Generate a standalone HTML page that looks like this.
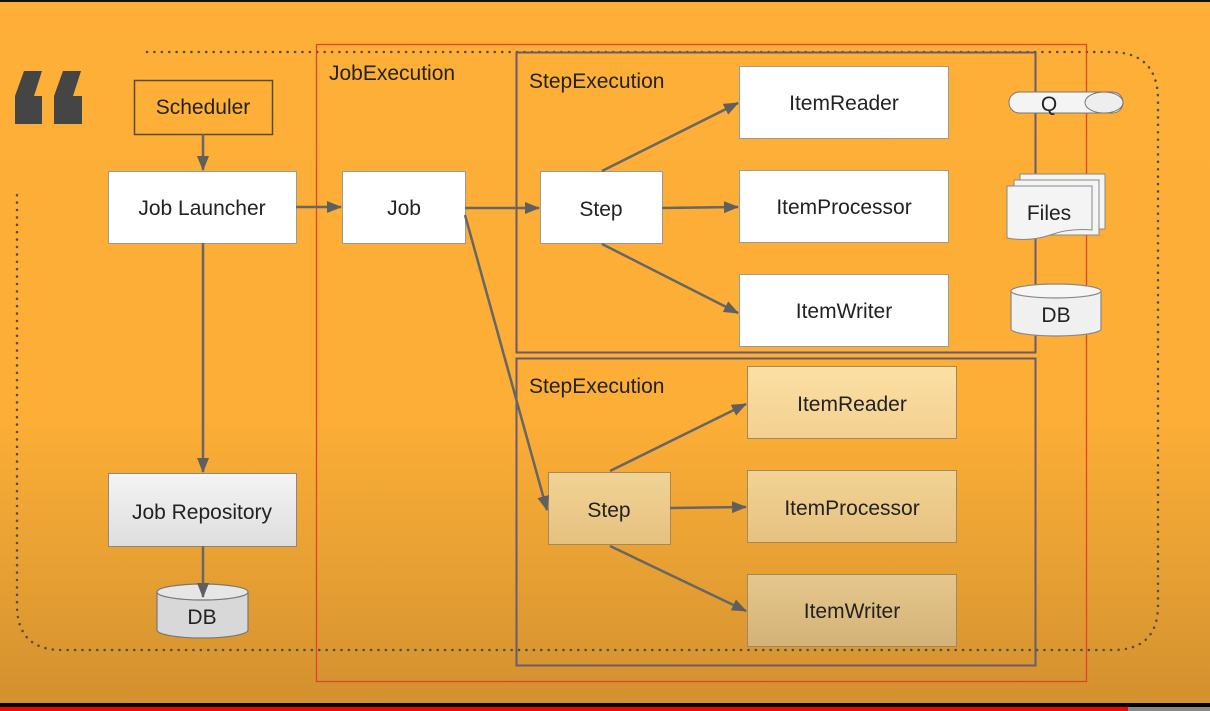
<!DOCTYPE html>
<html><head><meta charset="utf-8"><style>
html,body{margin:0;padding:0;width:1210px;height:711px;overflow:hidden}
body{background:linear-gradient(to bottom,#FDAF37 0px,#FCAE36 420px,#E8A133 560px,#D3912F 700px);}
svg{position:absolute;left:0;top:0}
text{font-family:"Liberation Sans",sans-serif;fill:#222}
</style></head><body>
<svg width="1210" height="711" viewBox="0 0 1210 711">
<defs>
<marker id="b" markerWidth="16" markerHeight="14" refX="14" refY="7" orient="auto" markerUnits="userSpaceOnUse">
<path d="M0,1 L15,7 L0,13 z" fill="#5f5f5f"/></marker>
<linearGradient id="g" x1="0" y1="0" x2="0" y2="1"><stop offset="0" stop-color="#f4f4f4"/><stop offset="1" stop-color="#dedede"/></linearGradient>
<linearGradient id="t1" x1="0" y1="0" x2="0" y2="1"><stop offset="0" stop-color="#FBE0A4"/><stop offset="1" stop-color="#F3D090"/></linearGradient>
<linearGradient id="t2" x1="0" y1="0" x2="0" y2="1"><stop offset="0" stop-color="#F1D395"/><stop offset="1" stop-color="#E6C17F"/></linearGradient>
<linearGradient id="t3" x1="0" y1="0" x2="0" y2="1"><stop offset="0" stop-color="#E5C88C"/><stop offset="1" stop-color="#D4B277"/></linearGradient>
</defs>
<rect x="0" y="0" width="1210" height="2" fill="#111"/>
<rect x="0" y="703" width="1210" height="8" fill="#000"/>
<rect x="0" y="707" width="1128" height="4" fill="#f00"/>
<rect x="1128" y="707" width="82" height="4" fill="#888"/>
<path d="M147,52 L1110,52 Q1158,52 1158,100 L1158,605 Q1158,650 1113,650 L62,650 Q17,650 17,605 L17,190" fill="none" stroke="#5a4a3a" stroke-width="2.5" stroke-dasharray="0.1 7.3" stroke-linecap="round"/>
<!-- quote mark decorative -->
<path d="M24,71 L42,71 L34,96 L42,96 L42,124 L15,124 L15,96 Z" fill="#454545"/>
<path d="M63,71 L81,71 L73,96 L82,96 L82,124 L54,124 L54,96 Z" fill="#454545"/>
<rect x="316.5" y="44.5" width="770" height="637" fill="none" stroke="#E0442A" stroke-width="1.3"/>
<text x="329" y="80" style="font-size:21px">JobExecution</text>
<rect x="516.5" y="52.5" width="519" height="300" fill="none" stroke="#6a5a70" stroke-width="2"/>
<text x="529" y="88" style="font-size:21px">StepExecution</text>
<rect x="516.5" y="358.5" width="519" height="307" fill="none" stroke="#6a5a70" stroke-width="2"/>
<text x="529" y="393" style="font-size:21px">StepExecution</text>
<rect x="134.5" y="80.5" width="138" height="54" fill="none" stroke="#5a4a30" stroke-width="1.5"/>
<text x="203" y="114" text-anchor="middle" style="font-size:21px">Scheduler</text>
<rect x="108.5" y="171.5" width="188" height="72" fill="#fff" stroke="#999" stroke-width="1"/>
<text x="202" y="215" text-anchor="middle" style="font-size:21px">Job Launcher</text>
<rect x="108.5" y="473.5" width="188" height="73" fill="url(#g)" stroke="#888" stroke-width="1"/>
<text x="202" y="519" text-anchor="middle" style="font-size:21px">Job Repository</text>
<path d="M157,592 L157,630 A45.5,8 0 0 0 248,630 L248,592" fill="#d8d8d8" stroke="#777" stroke-width="1.2"/>
<ellipse cx="202.5" cy="592" rx="45.5" ry="8" fill="#e6e6e6" stroke="#777" stroke-width="1.2"/>
<text x="202" y="624" text-anchor="middle" style="font-size:21px">DB</text>
<rect x="342.5" y="171.5" width="123" height="72" fill="#fff" stroke="#999"/>
<text x="404" y="215" text-anchor="middle" style="font-size:21px">Job</text>
<rect x="540.5" y="171.5" width="122" height="72" fill="#fff" stroke="#999"/>
<text x="601" y="216" text-anchor="middle" style="font-size:21px">Step</text>
<rect x="739.5" y="66.5" width="209" height="72" fill="#fff" stroke="#999"/>
<text x="844" y="110" text-anchor="middle" style="font-size:21px">ItemReader</text>
<rect x="739.5" y="170.5" width="209" height="72" fill="#fff" stroke="#999"/>
<text x="844" y="214" text-anchor="middle" style="font-size:21px">ItemProcessor</text>
<rect x="739.5" y="274.5" width="209" height="72" fill="#fff" stroke="#999"/>
<text x="844" y="318" text-anchor="middle" style="font-size:21px">ItemWriter</text>
<rect x="548.5" y="472.5" width="122" height="72" fill="url(#t2)" stroke="#a08860"/>
<text x="609" y="517" text-anchor="middle" style="font-size:21px">Step</text>
<rect x="747.5" y="366.5" width="209" height="72" fill="url(#t1)" stroke="#a08860"/>
<text x="852" y="411" text-anchor="middle" style="font-size:21px">ItemReader</text>
<rect x="747.5" y="470.5" width="209" height="72" fill="url(#t2)" stroke="#a08860"/>
<text x="852" y="515" text-anchor="middle" style="font-size:21px">ItemProcessor</text>
<rect x="747.5" y="574.5" width="209" height="72" fill="url(#t3)" stroke="#a08860"/>
<text x="852" y="618" text-anchor="middle" style="font-size:21px">ItemWriter</text>
<rect x="1009" y="92" width="114" height="21" rx="10.5" fill="#f4f4f4" stroke="#777"/>
<ellipse cx="1104" cy="102.5" rx="19" ry="10.5" fill="#eee" stroke="#777"/>
<text x="1049" y="111" text-anchor="middle" style="font-size:21px">Q</text>
<rect x="1020" y="174" width="85" height="55" fill="#f4f4f4" stroke="#888"/>
<rect x="1014" y="180" width="85" height="55" fill="#f4f4f4" stroke="#888"/>
<path d="M1007,186 L1092,186 L1092,230 Q1070,228 1050,235 Q1030,242 1007,238 Z" fill="#f4f4f4" stroke="#888"/>
<text x="1049" y="220" text-anchor="middle" style="font-size:21px">Files</text>
<path d="M1011,291 L1011,329 A45,7 0 0 0 1101,329 L1101,291" fill="#f0f0f0" stroke="#888" stroke-width="1.2"/>
<ellipse cx="1056" cy="291" rx="45" ry="7" fill="#f6f6f6" stroke="#888" stroke-width="1.2"/>
<text x="1056" y="322" text-anchor="middle" style="font-size:21px">DB</text>
<g stroke="#666" stroke-width="2.5" fill="none">
<line x1="203" y1="134" x2="203" y2="170" marker-end="url(#b)"/>
<line x1="296" y1="207" x2="341" y2="207" marker-end="url(#b)"/>
<line x1="203" y1="243" x2="203" y2="472" marker-end="url(#b)"/>
<line x1="203" y1="546" x2="203" y2="597" marker-end="url(#b)"/>
<line x1="465" y1="208" x2="539" y2="208" marker-end="url(#b)"/>
<line x1="465" y1="215" x2="547" y2="510" marker-end="url(#b)"/>
<line x1="602" y1="171" x2="738" y2="103" marker-end="url(#b)"/>
<line x1="662" y1="208" x2="738" y2="207" marker-end="url(#b)"/>
<line x1="602" y1="244" x2="738" y2="313" marker-end="url(#b)"/>
<line x1="610" y1="471" x2="746" y2="404" marker-end="url(#b)"/>
<line x1="670" y1="508" x2="746" y2="507" marker-end="url(#b)"/>
<line x1="610" y1="546" x2="746" y2="611" marker-end="url(#b)"/>
</g>
</svg>
</body></html>
